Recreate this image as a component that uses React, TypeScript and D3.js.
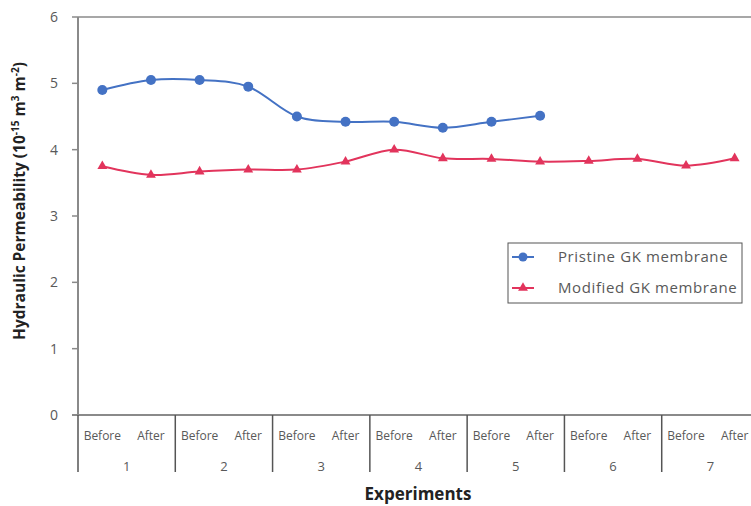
import React from "react";
import * as d3 from "d3";

const groups = ["1", "2", "3", "4", "5", "6", "7"];
const phases = ["Before", "After"];
const pristine = [4.9, 5.05, 5.05, 4.95, 4.5, 4.42, 4.42, 4.33, 4.42, 4.51];
const modified = [3.75, 3.62, 3.67, 3.7, 3.7, 3.82, 4.0, 3.87, 3.86, 3.82, 3.83, 3.86, 3.76, 3.87];
const yTicks = [0, 1, 2, 3, 4, 5, 6];
const seriesNames = ["Pristine GK membrane", "Modified GK membrane"];

const W = 751;
const H = 506;
const left = 78;
const right = 759;
const top = 17;
const bottom = 415;
const FONT = "'Open Sans', 'Liberation Sans', sans-serif";
const BLUE = "#4472C4";
const RED = "#E2345C";
const AXIS = "#8a8a8a";
const TXT = "#595959";

export default function App() {
  const cats = groups.flatMap((g) => phases.map((p) => `${g}-${p}`));
  const x = d3.scaleBand<string>().domain(cats).range([left, right]);
  const xg = d3.scaleBand<string>().domain(groups).range([left, right]);
  const y = d3.scaleLinear().domain([0, 6]).range([bottom, top]);
  const cx = (i: number) => (x(cats[i]) as number) + x.bandwidth() / 2;
  const line = d3
    .line<number>()
    .x((_, i) => cx(i))
    .y((d) => y(d))
    .curve(d3.curveCatmullRom.alpha(0));
  const tri = d3.symbol().type(d3.symbolTriangle).size(42)();
  const lx = 508, ly = 243, lw = 234, lh = 60;

  return (
    <svg width={W} height={H} style={{ position: "absolute", left: 0, top: 0, background: "#fff" }}>
      <line x1={left} x2={right} y1={top} y2={top} stroke={AXIS} strokeWidth={1.5} />
      <line x1={left} x2={left} y1={top} y2={bottom} stroke={AXIS} strokeWidth={2} />
      {yTicks.map((t) => (
        <g key={t}>
          <line x1={left - 6} x2={left} y1={y(t)} y2={y(t)} stroke={AXIS} strokeWidth={1.5} />
          <text x={left - 20} y={y(t)} dy="0.35em" textAnchor="end" fontSize={14} fill={TXT} fontFamily={FONT}>
            {t}
          </text>
        </g>
      ))}
      <line x1={left - 6} x2={right} y1={bottom} y2={bottom} stroke={AXIS} strokeWidth={2} />
      {groups.map((g) => (
        <line
          key={"s" + g}
          x1={xg(g) as number}
          x2={xg(g) as number}
          y1={bottom}
          y2={472}
          stroke="#555"
          strokeWidth={1.5}
        />
      ))}
      {cats.map((c, i) => (
        <text key={c} x={cx(i)} y={436} dy="0.35em" textAnchor="middle" fontSize={12} fill={TXT} fontFamily={FONT}>
          {phases[i % 2]}
        </text>
      ))}
      {groups.map((g) => (
        <text
          key={"g" + g}
          x={(xg(g) as number) + xg.bandwidth() / 2}
          y={466}
          dy="0.35em"
          textAnchor="middle"
          fontSize={13}
          fill={TXT}
          fontFamily={FONT}
        >
          {g}
        </text>
      ))}
      <text x={418} y={494} dy="0.35em" textAnchor="middle" fontSize={17} fontWeight="bold" fill="#222" fontFamily={FONT}>
        Experiments
      </text>
      <text
        transform={`translate(20,201) rotate(-90)`}
        textAnchor="middle"
        dy="0.35em"
        fontSize={15.5}
        fontWeight="bold"
        fill="#222"
        fontFamily={FONT}
      >
        Hydraulic Permeability (10
        <tspan dy="-6" fontSize={10}>-15</tspan>
        <tspan dy="6"> m</tspan>
        <tspan dy="-6" fontSize={10}>3</tspan>
        <tspan dy="6"> m</tspan>
        <tspan dy="-6" fontSize={10}>-2</tspan>
        <tspan dy="6">)</tspan>
      </text>
      <path d={line(modified) || ""} fill="none" stroke={RED} strokeWidth={2} />
      <path d={line(pristine) || ""} fill="none" stroke={BLUE} strokeWidth={2} />
      {modified.map((v, i) => (
        <path key={"m" + i} d={tri || ""} transform={`translate(${cx(i)},${y(v)})`} fill={RED} />
      ))}
      {pristine.map((v, i) => (
        <circle key={"p" + i} cx={cx(i)} cy={y(v)} r={5} fill={BLUE} />
      ))}
      <rect x={lx} y={ly} width={lw} height={lh} fill="#fff" stroke="#555" strokeWidth={1} />
      <line x1={lx + 4} x2={lx + 26} y1={ly + 14} y2={ly + 14} stroke={BLUE} strokeWidth={2} />
      <circle cx={lx + 15} cy={ly + 14} r={4.5} fill={BLUE} />
      <text x={lx + 50} y={ly + 14} dy="0.35em" fontSize={15} letterSpacing={0.6} fill={TXT} fontFamily={FONT}>
        {seriesNames[0]}
      </text>
      <line x1={lx + 4} x2={lx + 26} y1={ly + 45} y2={ly + 45} stroke={RED} strokeWidth={2} />
      <path d={tri || ""} transform={`translate(${lx + 15},${ly + 45})`} fill={RED} />
      <text x={lx + 50} y={ly + 45} dy="0.35em" fontSize={15} letterSpacing={0.6} fill={TXT} fontFamily={FONT}>
        {seriesNames[1]}
      </text>
    </svg>
  );
}
